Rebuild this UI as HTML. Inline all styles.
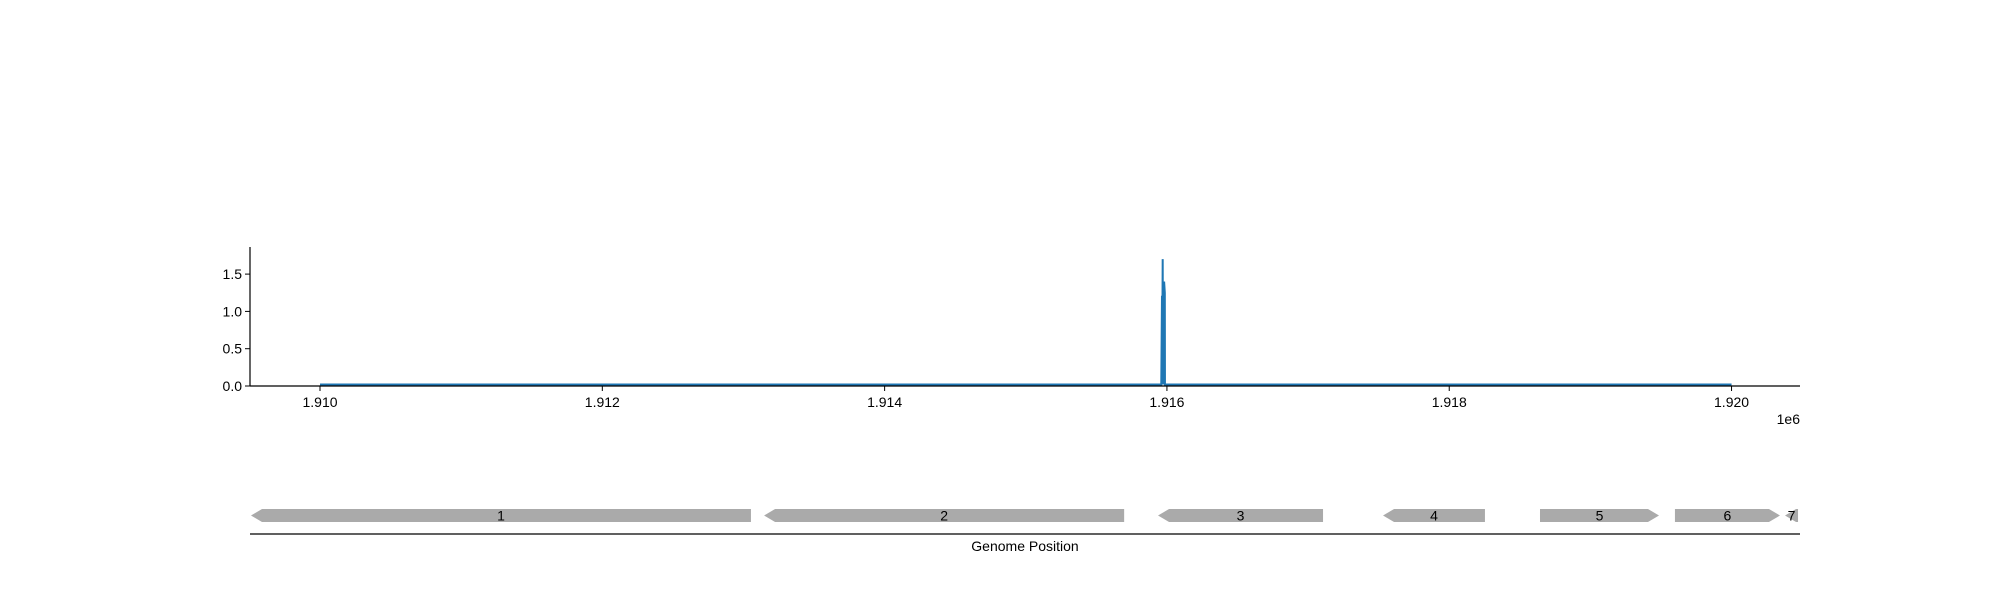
<!DOCTYPE html>
<html><head><meta charset="utf-8"><style>
body{margin:0;background:#fff;}
svg text{font-family:"Liberation Sans","DejaVu Sans",sans-serif;font-size:14px;fill:#000;}
</style></head><body>
<svg id="chart" width="2000" height="600" xmlns="http://www.w3.org/2000/svg">
<g id="plot"></g>
<g id="genes"></g>
</svg>
<script>
const xTicks=[1910000,1912000,1914000,1916000,1918000,1920000];
const xTickLabels=["1.910","1.912","1.914","1.916","1.918","1.920"];
const yTicks=[0,0.5,1.0,1.5];
const yTickLabels=["0.0","0.5","1.0","1.5"];
const covPos=[1910000,1915960,1915965,1915966,1915970,1915972,1915975,1915978,1915980,1915985,1915986,1920000];
const covVal=[0.02,0.02,1.21,0.02,1.70,0.02,1.40,0.02,1.40,1.25,0.02,0.02];
const geneStart=[1909511,1913146,1915937,1917531,1918643,1919599,1920379];
const geneEnd=[1913053,1915697,1917106,1918253,1919486,1920343,1920471];
const geneStrand=[-1,-1,-1,-1,1,1,-1];
const geneLabels=["1","2","3","4","5","6","7"];

const X0=1909504,X1=1920485,PX0=250,PX1=1800;
function sx(v){return PX0+(v-X0)/(X1-X0)*(PX1-PX0);}
function sy(v){return 386-v*74.6;}
const NS="http://www.w3.org/2000/svg";
function mk(parent,tag,attrs){const e=document.createElementNS(NS,tag);for(const k in attrs)e.setAttribute(k,attrs[k]);parent.appendChild(e);return e;}
const plotG=document.getElementById('plot');
const genesG=document.getElementById('genes');

let d="";
covPos.forEach((p,i)=>{d+=(i?"L":"M")+sx(p).toFixed(2)+","+sy(covVal[i]).toFixed(2);});
const line=mk(plotG,'path',{d:d,fill:'none',stroke:'#1f77b4','stroke-width':2});



const yax=mk(plotG,'line',{x1:PX0,y1:247,x2:PX0,y2:386.5,stroke:'#000','stroke-width':1.2});


const xax=mk(plotG,'line',{x1:PX0,y1:386,x2:PX1,y2:386,stroke:'#000','stroke-width':1.2});



xTicks.forEach((t,i)=>{
  const x=sx(t);
  const tk=mk(plotG,'line',{x1:x,y1:386,x2:x,y2:391,stroke:'#000','stroke-width':1});
  
  
  const tx=mk(plotG,'text',{x:x,y:407,'text-anchor':'middle'});
  tx.textContent=xTickLabels[i];
  
  
});
yTicks.forEach((t,i)=>{
  const y=sy(t);
  const tk=mk(plotG,'line',{x1:PX0-5,y1:y,x2:PX0,y2:y,stroke:'#000','stroke-width':1});
  
  
  const tx=mk(plotG,'text',{x:PX0-8,y:y+5,'text-anchor':'end'});
  tx.textContent=yTickLabels[i];
  
  
});
const off=mk(plotG,'text',{x:1800,y:424,'text-anchor':'end'});
off.textContent="1e6";



const barTop=509,barBot=522,barMid=(barTop+barBot)/2,headLen=11;
geneStart.forEach((s,i)=>{
  const a=sx(s),b=sx(geneEnd[i]);
  const h=Math.min(headLen,b-a);
  let pts;
  if(geneStrand[i]<0){pts=[[a,barMid],[a+h,barTop],[b,barTop],[b,barBot],[a+h,barBot]];}
  else{pts=[[a,barTop],[b-h,barTop],[b,barMid],[b-h,barBot],[a,barBot]];}
  const g=mk(genesG,'polygon',{points:pts.map(p=>p.join(',')).join(' '),fill:'#aaaaaa'});
  
  
  const t=mk(genesG,'text',{x:(a+b)/2,y:barMid+5,'text-anchor':'middle'});
  t.textContent=geneLabels[i];
  
  
});
const gl=mk(genesG,'line',{x1:250,y1:534,x2:1800,y2:534,stroke:'#000','stroke-width':1.2});


const gt=mk(genesG,'text',{x:1025,y:551,'text-anchor':'middle'});
gt.textContent="Genome Position";


</script>
</body></html>
